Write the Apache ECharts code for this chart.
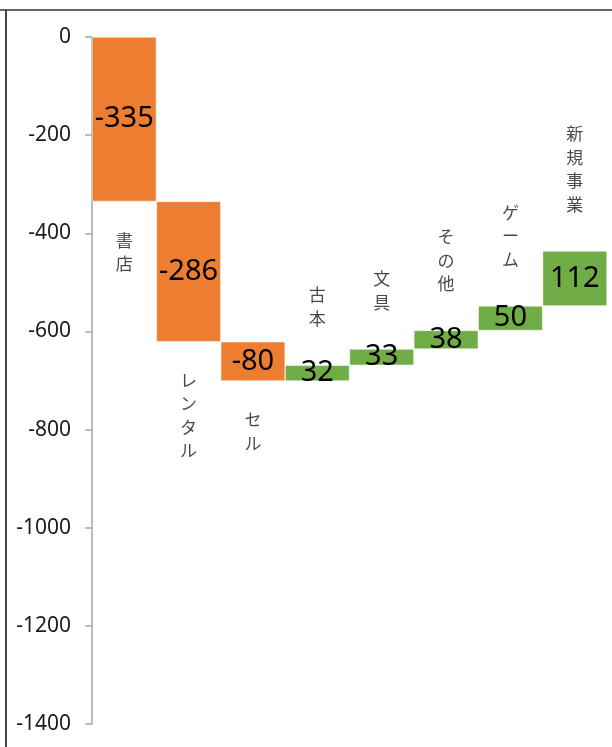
<!DOCTYPE html>
<html><head><meta charset="utf-8">
<script src="https://cdn.jsdelivr.net/npm/echarts@6/dist/echarts.min.js"></script>
<style>html,body{margin:0;padding:0;background:#fff}#c{width:612px;height:747px}</style>
</head><body><div id="c"></div>
<script>
const categories = ['書店','レンタル','セル','古本','文具','その他','ゲーム','新規事業'];
const deltas = [-335,-286,-80,32,33,38,50,112];
const yTicks = [0,-200,-400,-600,-800,-1000,-1200,-1400];

// derived from deltas
const starts = [], ends = [];
let run = 0;
deltas.forEach(d => { starts.push(run); run += d; ends.push(run); });
const baseVals = deltas.map((d,i) => Math.max(starts[i], ends[i]));
const barVals = deltas.map(d => -Math.abs(d));
const ORANGE = '#ED7D31', GREEN = '#70AD47';

const catLabelData = deltas.map((d,i) => ({
  value: [i, d < 0 ? Math.min(starts[i], ends[i]) : Math.max(starts[i], ends[i])],
  label: {
    position: d < 0 ? 'bottom' : 'top',
    distance: d < 0 ? 27 : 35
  }
}));

const chart = echarts.init(document.getElementById('c'));
chart.setOption({
  animation: false,
  grid: {left: 92, right: 5, top: 37, bottom: 23},
  xAxis: {type: 'category', data: categories, show: false},
  yAxis: {
    type: 'value', min: -1400, max: 0, interval: 200,
    axisLine: {show: true, lineStyle: {color: '#A6A6A6', width: 1.5}},
    axisTick: {show: true, length: 7, lineStyle: {color: '#A6A6A6', width: 1.5}},
    splitLine: {show: false},
    axisLabel: {color: '#1a1a1a', fontSize: 21, fontFamily: 'Noto Sans', margin: 21,
      formatter: v => yTicks.includes(v) ? String(v) : ''}
  },
  series: [
    {type: 'bar', stack: 'w', data: baseVals, itemStyle: {color: 'transparent'}, barCategoryGap: 0, silent: true},
    {type: 'bar', stack: 'w', barCategoryGap: 0,
      data: barVals.map((v,i) => ({value: v, itemStyle: {color: deltas[i] < 0 ? ORANGE : GREEN, borderColor: '#fff', borderWidth: 0.5}})),
      label: {show: true, position: 'inside', color: '#000', fontSize: 29, fontFamily: 'Noto Sans',
        formatter: p => String(deltas[p.dataIndex])}
    },
    {type: 'scatter', symbolSize: 0, data: catLabelData,
      label: {show: true, color: '#1a1a1a', fontSize: 17, lineHeight: 23.5,
        fontFamily: 'Noto Sans CJK JP',
        formatter: p => categories[p.dataIndex].split('').join('\n')}
    }
  ],
  graphic: [
    {type: 'line', shape: {x1: 0, y1: 10, x2: 612, y2: 10}, style: {stroke: '#666', lineWidth: 2}},
    {type: 'line', shape: {x1: 6, y1: 10, x2: 6, y2: 747}, style: {stroke: '#444', lineWidth: 2}}
  ]
});
</script>
</body></html>
